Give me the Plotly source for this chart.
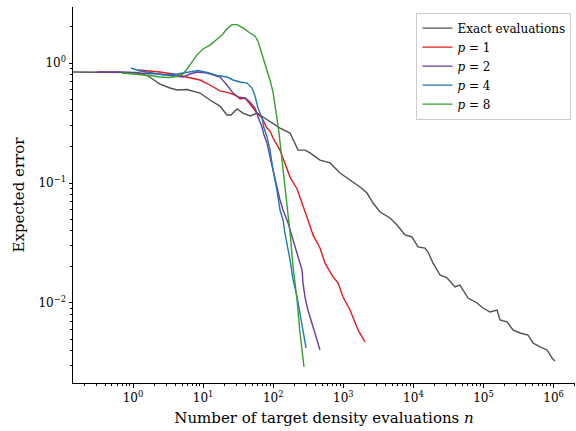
import plotly.graph_objects as go

# ---- data (n = evaluations, err = expected error) ----
exact_n = [0.139, 0.338, 1.14, 1.64, 2.43, 3.37, 4.24, 5.89, 9.03, 12.5, 17.4, 21.9, 25.0,
           30.5, 37.1, 46.7, 58.7, 71.6, 99.4, 125, 174, 226, 284, 335, 465, 646, 897,
           1247, 1730, 2178, 2654, 3342, 4637, 5837, 7590, 9550, 11640, 14630, 16150,
           19050, 23950, 30130, 39200, 46200, 60100, 80800, 98400, 123900, 156000,
           171900, 216400, 263600, 331700, 431500, 508200, 639600, 805000, 948600, 1047000]
exact_err = [0.841, 0.841, 0.833, 0.779, 0.668, 0.619, 0.596, 0.601, 0.562, 0.492, 0.438,
             0.369, 0.369, 0.414, 0.383, 0.362, 0.383, 0.355, 0.316, 0.287, 0.261, 0.188,
             0.188, 0.178, 0.155, 0.147, 0.121, 0.106, 0.0926, 0.0825, 0.0681, 0.0573,
             0.0511, 0.0447, 0.0369, 0.0355, 0.0293, 0.0287, 0.0266, 0.0215, 0.0171,
             0.0162, 0.0136, 0.0141, 0.0110, 0.0100, 0.00908, 0.00841, 0.00874, 0.00722,
             0.00695, 0.00596, 0.00562, 0.00541, 0.00464, 0.00430, 0.00406, 0.00348, 0.00329]

p1_n = [1.18, 1.75, 2.43, 3.72, 5.89, 9.03, 12.5, 17.4, 24.2, 30.5, 33.6, 39.6, 46.7, 58.7,
        69.2, 81.6, 90.0, 99.4, 125, 147, 174, 219, 266, 313, 370, 465, 548, 713, 840, 990,
        1247, 1469, 1622, 1850, 2040]
p1_err = [0.874, 0.858, 0.841, 0.810, 0.764, 0.722, 0.656, 0.585, 0.562, 0.531, 0.501,
          0.511, 0.455, 0.383, 0.348, 0.287, 0.271, 0.237, 0.188, 0.147, 0.112, 0.0891,
          0.0656, 0.0492, 0.0369, 0.0287, 0.0215, 0.0165, 0.0147, 0.0112, 0.00874,
          0.00695, 0.00596, 0.00521, 0.00473]

p2_n = [0.306, 0.653, 1.14, 2.43, 3.97, 5.17, 6.50, 8.18, 11.4, 14.8, 17.4, 21.9, 26.7,
        31.5, 39.6, 46.7, 55.0, 60.7, 69.2, 73.9, 81.6, 90.0, 99.4, 113, 125, 138, 163,
        192, 226, 258, 266, 284, 313, 357, 408, 465]
p2_err = [0.841, 0.841, 0.825, 0.810, 0.779, 0.764, 0.810, 0.841, 0.825, 0.794, 0.764,
          0.656, 0.562, 0.521, 0.511, 0.473, 0.422, 0.355, 0.293, 0.251, 0.215, 0.165,
          0.128, 0.0926, 0.0722, 0.0596, 0.0464, 0.0335, 0.0242, 0.0188, 0.0147, 0.0112,
          0.00874, 0.00681, 0.00541, 0.00406]

p4_n = [0.936, 1.26, 1.75, 2.68, 4.24, 6.50, 8.46, 11.4, 15.8, 21.9, 26.7, 33.6, 42.3,
        49.8, 55.0, 60.7, 69.2, 73.9, 81.6, 90.0, 99.4, 113, 125, 138, 147, 174, 192, 219,
        241, 266, 294]
p4_err = [0.909, 0.858, 0.833, 0.794, 0.810, 0.841, 0.866, 0.833, 0.787, 0.764, 0.722,
          0.695, 0.681, 0.619, 0.531, 0.422, 0.348, 0.287, 0.242, 0.188, 0.128, 0.0874,
          0.0596, 0.0492, 0.0383, 0.0228, 0.0156, 0.0112, 0.00825, 0.00562, 0.00422]

p8_n = [0.697, 1.14, 1.75, 2.43, 3.16, 4.24, 5.17, 5.89, 6.95, 8.18, 9.97, 12.5, 15.8, 18.6,
        21.9, 25.8, 30.5, 37.1, 46.7, 55.0, 60.7, 67.0, 76.4, 84.3, 90.0, 99.4, 106, 113,
        121, 129, 138, 147, 157, 168, 174, 192, 219, 241, 275]
p8_err = [0.825, 0.810, 0.787, 0.764, 0.757, 0.772, 0.810, 0.891, 1.02, 1.17, 1.31, 1.41,
          1.58, 1.71, 1.92, 2.09, 2.09, 1.96, 1.78, 1.68, 1.52, 1.28, 0.981, 0.810, 0.722,
          0.573, 0.464, 0.348, 0.261, 0.188, 0.136, 0.0944, 0.0722, 0.0473, 0.0383,
          0.0200, 0.0106, 0.00562, 0.00293]

series = [
    ("Exact evaluations", exact_n, exact_err, "#505050"),
    ("<i>p</i> = 1", p1_n, p1_err, "#e31a1c"),
    ("<i>p</i> = 2", p2_n, p2_err, "#6a3d9a"),
    ("<i>p</i> = 4", p4_n, p4_err, "#1f78b4"),
    ("<i>p</i> = 8", p8_n, p8_err, "#33a02c"),
]

x_tickvals = [1, 10, 100, 1000, 10000, 100000, 1000000]
x_ticktext = ["10<sup>0</sup>", "10<sup>1</sup>", "10<sup>2</sup>", "10<sup>3</sup>",
              "10<sup>4</sup>", "10<sup>5</sup>", "10<sup>6</sup>"]
y_tickvals = [0.01, 0.1, 1]
y_ticktext = ["10<sup>−2</sup>", "10<sup>−1</sup>", "10<sup>0</sup>"]

x_minor = [m * 10.0 ** k for k in range(-1, 7) for m in range(2, 10)]
y_minor = [m * 10.0 ** k for k in range(-3, 1) for m in range(2, 10)]

FONT = "DejaVu Serif"

fig = go.Figure()
for name, xs, ys, col in series:
    fig.add_trace(go.Scatter(x=xs, y=ys, mode="lines", name=name,
                             line=dict(color=col, width=1.4)))

fig.update_layout(
    width=576, height=431,
    margin=dict(l=73, r=1, t=7, b=48),
    paper_bgcolor="white", plot_bgcolor="white",
    font=dict(family=FONT, color="black", size=11),
    showlegend=True,
    legend=dict(x=0.993, y=0.985, xanchor="right", yanchor="top",
                bgcolor="rgba(255,255,255,0.8)", bordercolor="#cccccc", borderwidth=1,
                font=dict(family=FONT, size=12, color="black"),
                tracegroupgap=0),
)

fig.update_xaxes(
    type="log", range=[-0.856, 6.305], automargin=False,
    showgrid=False, zeroline=False,
    showline=True, linecolor="black", linewidth=1, mirror=False,
    ticks="outside", ticklen=3.5, tickwidth=0.8, tickcolor="black",
    tickmode="array", tickvals=x_tickvals, ticktext=x_ticktext,
    tickfont=dict(family=FONT, size=12),
    minor=dict(tickmode="array", tickvals=x_minor, ticks="outside", ticklen=2,
               tickwidth=0.6, tickcolor="black", showgrid=False),
    title=dict(text="Number of target density evaluations <i>n</i>",
               font=dict(family=FONT, size=15), standoff=8),
)
fig.update_yaxes(
    type="log", range=[-2.667, 0.467], automargin=False,
    showgrid=False, zeroline=False,
    showline=True, linecolor="black", linewidth=1, mirror=False,
    ticks="outside", ticklen=3.5, tickwidth=0.8, tickcolor="black",
    tickmode="array", tickvals=y_tickvals, ticktext=y_ticktext,
    tickfont=dict(family=FONT, size=12),
    minor=dict(tickmode="array", tickvals=y_minor, ticks="outside", ticklen=2,
               tickwidth=0.6, tickcolor="black", showgrid=False),
    title=dict(text="Expected error", font=dict(family=FONT, size=15), standoff=10),
)

fig.write_html("out.html", config={"displayModeBar": False},
               post_script="document.body.style.margin='0';document.body.style.padding='0';")
